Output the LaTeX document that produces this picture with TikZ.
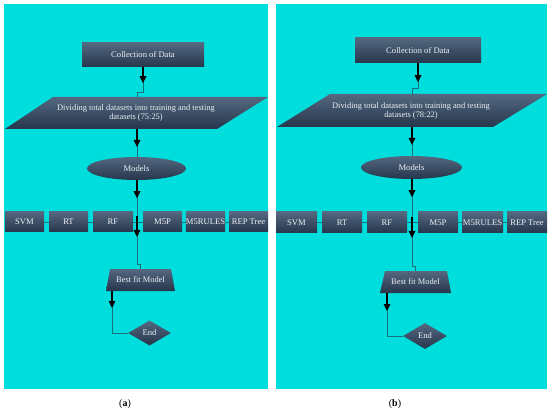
\documentclass[tikz,border=0pt]{standalone}
\usepackage{fontspec}
\setmainfont{Liberation Serif}
\usetikzlibrary{shapes.geometric,arrows.meta,calc}
\definecolor{bgcyan}{RGB}{0,221,221}
\definecolor{ntop}{RGB}{84,104,128}
\definecolor{nbot}{RGB}{38,54,76}
\definecolor{tline}{RGB}{22,112,124}
\definecolor{ntext}{RGB}{236,240,244}
\tikzset{
  panel/.style={fill=bgcyan, draw=none},
  shp/.style={top color=ntop, bottom color=nbot, draw=none},
  box/.style={shp, rectangle, inner sep=0pt, text=ntext, font=\fontsize{8.6}{9.5}\selectfont},
  ell/.style={box, ellipse},
  dia/.style={box, diamond},
  txt/.style={text=ntext, font=\fontsize{8.4}{9.5}\selectfont, align=center, inner sep=0pt},
  tl/.style={draw=tline, line width=0.8pt},
  blk/.style={draw=black, line width=1.6pt, -{Triangle[width=6.5pt,length=7pt]}},
  figcap/.style={text=black, font=\fontsize{10}{11}\selectfont, inner sep=0pt}
}
\begin{document}
\begin{tikzpicture}[x=1pt,y=-1pt]
\useasboundingbox (0,0) rectangle (550,412);
\fill[white] (0,0) rectangle (550,412);
% panels
\path[panel] (4,4) rectangle (268,389);
\path[panel] (276,4) rectangle (547,389);

% ================= Panel (a) =================
\node[box, minimum width=122pt, minimum height=24pt] (ca) at (143,55) {Collection of Data};
\shade[shp] (53,97) -- (268,97) -- (217,129) -- (5,129) -- cycle;
\node[txt] (da) at (136,113) {Dividing total datasets into training and testing\\datasets (75:25)};
\coordinate (datop) at (137,97);
\coordinate (dabot) at (137,129);
\node[ell, minimum width=99pt, minimum height=23pt] (ma) at (136.5,168.5) {Models};
\node[box, minimum width=39pt, minimum height=20pt] (svma) at (24.5,222) {SVM};
\node[box, minimum width=39pt, minimum height=20pt] (rta) at (68.5,222) {RT};
\node[box, minimum width=40pt, minimum height=20pt] (rfa) at (113,222) {RF};
\node[box, minimum width=39pt, minimum height=20pt] (m5pa) at (162.5,222) {M5P};
\node[box, minimum width=39pt, minimum height=20pt] (m5ra) at (205.5,222) {M5RULES};
\node[box, minimum width=39pt, minimum height=20pt] (repa) at (248.5,222) {REP Tree};
\shade[shp] (110,269) -- (171,269) -- (175,291) -- (106,291) -- cycle;
\node[txt] (ba) at (140.5,280) {Best fit Model};
\coordinate (batop) at (140,269);
\coordinate (babot) at (112,291);
\node[dia, minimum width=43pt, minimum height=25pt] (ea) at (149.5,333) {End};
% connectors (a)
\draw[tl] (ca.south) -- ++(0,25) -| (datop);
\draw[blk] (ca.south) -- ++(0,16);
\draw[tl] (dabot) -- (dabot |- ma.north);
\draw[blk] (dabot) -- ++(0,18);
\draw[tl] (svma.east) -- (rta.west);
\draw[tl] (rta.east) -- (rfa.west);
\draw[tl] (rfa.east) -- (m5pa.west);
\draw[tl] (m5pa.east) -- (m5ra.west);
\draw[tl] (m5ra.east) -- (repa.west);
\draw[tl] (dabot |- ma.south) -- (137,264) -| (batop);
\draw[blk] (dabot |- ma.south) -- ++(0,18);
\draw[blk] (137,216) -- (137,237);
\draw[tl] (babot) |- (ea.west);
\draw[blk] (babot) -- ++(0,17);
\node[figcap] (capa) at (125,404) {(\textbf{a})};

% ================= Panel (b) =================
\node[box, minimum width=126pt, minimum height=25pt] (cb) at (418,50.5) {Collection of Data};
\shade[shp] (330,94) -- (547,94) -- (493,127) -- (277,127) -- cycle;
\node[txt] (db) at (411,111) {Dividing total datasets into training and testing\\datasets (78:22)};
\coordinate (dbtop) at (412,94);
\coordinate (dbbot) at (412,127);
\node[ell, minimum width=101pt, minimum height=23pt] (mb) at (411.5,167.5) {Models};
\node[box, minimum width=41pt, minimum height=21pt] (svmb) at (296.5,222.5) {SVM};
\node[box, minimum width=40pt, minimum height=21pt] (rtb) at (342,222.5) {RT};
\node[box, minimum width=40pt, minimum height=21pt] (rfb) at (387,222.5) {RF};
\node[box, minimum width=40pt, minimum height=21pt] (m5pb) at (438,222.5) {M5P};
\node[box, minimum width=41pt, minimum height=21pt] (m5rb) at (482.5,222.5) {M5RULES};
\node[box, minimum width=40pt, minimum height=21pt] (repb) at (527,222.5) {REP Tree};
\shade[shp] (385,271) -- (447,271) -- (451,293) -- (380,293) -- cycle;
\node[txt] (bb) at (415.5,282) {Best fit Model};
\coordinate (bbtop) at (415,271);
\coordinate (bbbot) at (387,293);
\node[dia, minimum width=44pt, minimum height=26pt] (eb) at (425,336) {End};
% connectors (b)
\draw[tl] (cb.south) -- ++(0,25) -| (dbtop);
\draw[blk] (cb.south) -- ++(0,19);
\draw[tl] (dbbot) -- (dbbot |- mb.north);
\draw[blk] (dbbot) -- ++(0,18);
\draw[tl] (svmb.east) -- (rtb.west);
\draw[tl] (rtb.east) -- (rfb.west);
\draw[tl] (rfb.east) -- (m5pb.west);
\draw[tl] (m5pb.east) -- (m5rb.west);
\draw[tl] (m5rb.east) -- (repb.west);
\draw[tl] (dbbot |- mb.south) -- (412,266) -| (bbtop);
\draw[blk] (dbbot |- mb.south) -- ++(0,18);
\draw[blk] (412,217) -- (412,238);
\draw[tl] (bbbot) |- (eb.west);
\draw[blk] (bbbot) -- ++(0,18);
\node[figcap] (capb) at (395,404) {(\textbf{b})};
\end{tikzpicture}
\end{document}
